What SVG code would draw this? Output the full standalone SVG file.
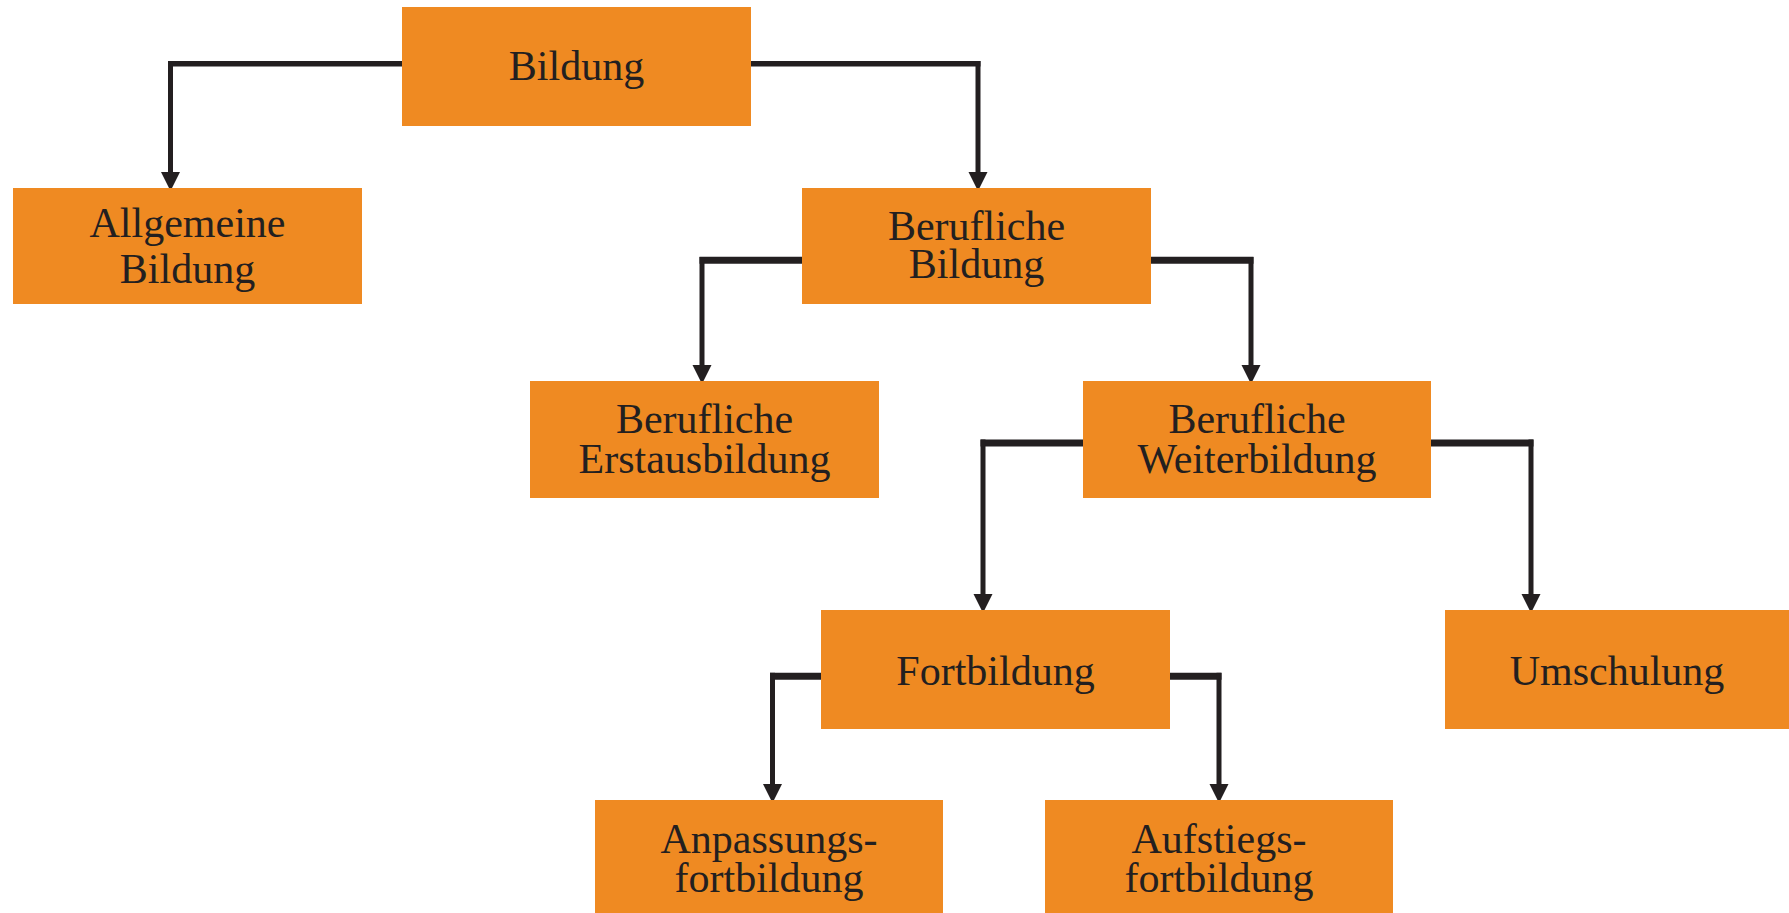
<svg xmlns="http://www.w3.org/2000/svg" width="1789" height="913" viewBox="0 0 1789 913">
<style>
.box{fill:#EF8A22;}
.t{font-family:"Liberation Serif","Times New Roman",serif;font-size:42px;fill:#231F20;text-anchor:middle;}
.h{stroke:#231F20;stroke-width:7;fill:none;}
.h1{stroke:#231F20;stroke-width:5.5;fill:none;}
.v{stroke:#231F20;stroke-width:5;fill:none;}
.ah{fill:#231F20;}
</style>
<rect width="1789" height="913" fill="#FFFFFF"/>
<g id="connectors">
  <!-- Bildung -> Allgemeine -->
  <line class="h1" x1="402" y1="63.8" x2="168" y2="63.8"/>
  <line class="v" x1="170.5" y1="61" x2="170.5" y2="175"/>
  <polygon class="ah" points="161,172 180,172 170.5,191"/>
  <!-- Bildung -> Berufliche Bildung -->
  <line class="h1" x1="751" y1="63.8" x2="980.5" y2="63.8"/>
  <line class="v" x1="978" y1="61" x2="978" y2="175"/>
  <polygon class="ah" points="968.5,172 987.5,172 978,191"/>
  <!-- Berufliche Bildung -> Erstausbildung -->
  <line class="h" x1="802" y1="260.3" x2="699.5" y2="260.3"/>
  <line class="v" x1="702" y1="257" x2="702" y2="368"/>
  <polygon class="ah" points="692.5,365 711.5,365 702,384"/>
  <!-- Berufliche Bildung -> Weiterbildung -->
  <line class="h" x1="1151" y1="260.3" x2="1253.5" y2="260.3"/>
  <line class="v" x1="1251" y1="257" x2="1251" y2="368"/>
  <polygon class="ah" points="1241.5,365 1260.5,365 1251,384"/>
  <!-- Weiterbildung -> Fortbildung -->
  <line class="h" x1="1083" y1="443" x2="980.5" y2="443"/>
  <line class="v" x1="983" y1="439.5" x2="983" y2="597"/>
  <polygon class="ah" points="973.5,594 992.5,594 983,613"/>
  <!-- Weiterbildung -> Umschulung -->
  <line class="h" x1="1431" y1="443" x2="1533.5" y2="443"/>
  <line class="v" x1="1531" y1="439.5" x2="1531" y2="597"/>
  <polygon class="ah" points="1521.5,594 1540.5,594 1531,613"/>
  <!-- Fortbildung -> Anpassungsfortbildung -->
  <line class="h" x1="821" y1="676.3" x2="770" y2="676.3"/>
  <line class="v" x1="772.5" y1="672.8" x2="772.5" y2="787"/>
  <polygon class="ah" points="763,784 782,784 772.5,803"/>
  <!-- Fortbildung -> Aufstiegsfortbildung -->
  <line class="h" x1="1170" y1="676.3" x2="1221.5" y2="676.3"/>
  <line class="v" x1="1219" y1="672.8" x2="1219" y2="787"/>
  <polygon class="ah" points="1209.5,784 1228.5,784 1219,803"/>
</g>
<g id="n-bildung">
  <rect class="box" x="402" y="7" width="349" height="119"/>
  <text class="t" x="576.5" y="80">Bildung</text>
</g>
<g id="n-allgemeine">
  <rect class="box" x="13" y="188" width="349" height="116"/>
  <text class="t" x="187.5" y="237">Allgemeine</text>
  <text class="t" x="187.5" y="283">Bildung</text>
</g>
<g id="n-berufliche-bildung">
  <rect class="box" x="802" y="188" width="349" height="116"/>
  <text class="t" x="976.5" y="240">Berufliche</text>
  <text class="t" x="976.5" y="278">Bildung</text>
</g>
<g id="n-erstausbildung">
  <rect class="box" x="530" y="381" width="349" height="117"/>
  <text class="t" x="704.5" y="433">Berufliche</text>
  <text class="t" x="704.5" y="473">Erstausbildung</text>
</g>
<g id="n-weiterbildung">
  <rect class="box" x="1083" y="381" width="348" height="117"/>
  <text class="t" x="1257" y="433">Berufliche</text>
  <text class="t" x="1257" y="473">Weiterbildung</text>
</g>
<g id="n-fortbildung">
  <rect class="box" x="821" y="610" width="349" height="119"/>
  <text class="t" x="995.5" y="685">Fortbildung</text>
</g>
<g id="n-umschulung">
  <rect class="box" x="1445" y="610" width="344" height="119"/>
  <text class="t" x="1617" y="685">Umschulung</text>
</g>
<g id="n-anpassung">
  <rect class="box" x="595" y="800" width="348" height="113"/>
  <text class="t" x="769" y="853">Anpassungs-</text>
  <text class="t" x="769" y="892">fortbildung</text>
</g>
<g id="n-aufstieg">
  <rect class="box" x="1045" y="800" width="348" height="113"/>
  <text class="t" x="1219" y="853">Aufstiegs-</text>
  <text class="t" x="1219" y="892">fortbildung</text>
</g>
</svg>
